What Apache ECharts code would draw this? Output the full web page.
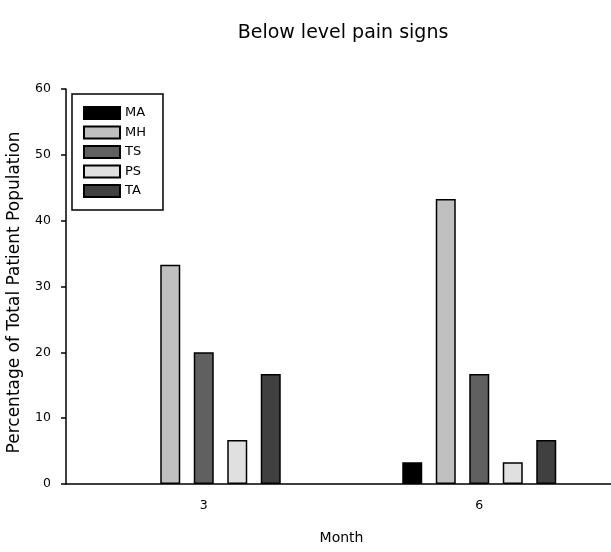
<!DOCTYPE html>
<html><head><meta charset="utf-8">
<script src="https://cdn.jsdelivr.net/npm/echarts@6/dist/echarts.min.js"></script>
<style>html,body{margin:0;padding:0;background:#fff}#c{width:611px;height:552px}</style>
</head><body><div id="c"></div>
<script>
const categories = ['3', '6'];
const seriesNames = ['MA', 'MH', 'TS', 'PS', 'TA'];
const MA = [0, 3.3];
const MH = [33.3, 43.3];
const TS = [20, 16.7];
const PS = [6.7, 3.3];
const TA = [16.7, 6.7];
const yTicks = [0, 10, 20, 30, 40, 50, 60];
const colors = ['#000000', '#c0c0c0', '#606060', '#e0e0e0', '#404040'];
const values = [MA, MH, TS, PS, TA];

const font = 'DejaVu Sans, Liberation Sans, Arial, sans-serif';
const chart = echarts.init(document.getElementById('c'), null, {renderer: 'canvas'});
chart.setOption({
  animation: false,
  backgroundColor: '#fff',
  title: {
    text: 'Below level pain signs', left: 338, top: 19, textAlign: 'center',
    textStyle: {fontFamily: font, fontSize: 19, fontWeight: 'normal', color: '#000'}
  },
  grid: {left: 66, top: 89, right: -6, bottom: 68, outerBoundsMode: 'none', containLabel: false},
  legend: {
    orient: 'vertical', left: 72, top: 94,
    icon: 'rect',
    itemWidth: 36, itemHeight: 12, itemGap: 5.5,
    padding: [12, 17, 12, 11],
    borderColor: '#000', borderWidth: 1.5,
    textStyle: {fontFamily: font, fontSize: 13, color: '#000'},
    data: seriesNames
  },
  xAxis: {
    type: 'category', data: categories,
    name: 'Month', nameLocation: 'middle', nameGap: 47,
    nameTextStyle: {fontFamily: font, fontSize: 14, color: '#000'},
    axisLine: {lineStyle: {color: '#000', width: 1.5}},
    axisTick: {alignWithLabel: true, length: 5, lineStyle: {color: '#000', width: 1.5}},
    axisLabel: {fontFamily: font, fontSize: 12.5, color: '#000', margin: 15}
  },
  yAxis: {
    type: 'value', min: yTicks[0], max: yTicks[yTicks.length - 1], interval: 10,
    name: 'Percentage of Total Patient Population', nameLocation: 'middle', nameGap: 43,
    nameTextStyle: {fontFamily: font, fontSize: 17, color: '#000', padding: [0, 12, 0, 0]},
    axisLine: {show: true, lineStyle: {color: '#000', width: 1.5}},
    axisTick: {show: true, length: 5, lineStyle: {color: '#000', width: 1.5}},
    axisLabel: {fontFamily: font, fontSize: 12.5, color: '#000', margin: 15},
    splitLine: {show: false}
  },
  series: seriesNames.map((n, i) => ({
    name: n, type: 'bar',
    data: values[i].map(v => (v === 0 ? '-' : v)),
    barWidth: 20, barGap: '67.5%',
    itemStyle: {color: colors[i], borderColor: '#000', borderWidth: 1.5}
  }))
});
</script></body></html>
